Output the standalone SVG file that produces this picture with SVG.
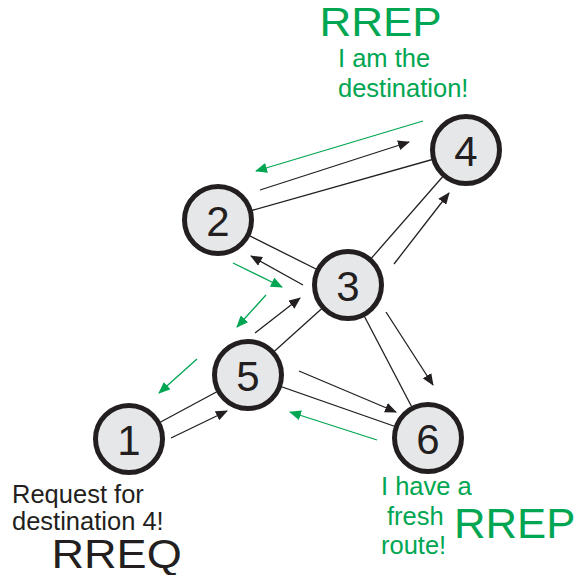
<svg xmlns="http://www.w3.org/2000/svg" width="575" height="575" viewBox="0 0 575 575">
  <defs>
    <marker id="hb" viewBox="0 0 12 10" refX="11" refY="5" markerWidth="12" markerHeight="10" markerUnits="userSpaceOnUse" orient="auto">
      <path d="M0,0 L12,5 L0,10 Z" fill="#231f20"/>
    </marker>
    <marker id="hg" viewBox="0 0 12 10" refX="11" refY="5" markerWidth="12" markerHeight="10" markerUnits="userSpaceOnUse" orient="auto">
      <path d="M0,0 L12,5 L0,10 Z" fill="#00a651"/>
    </marker>
    <style>
      .link { stroke: #231f20; stroke-width: 1.3; fill: none; }
      .req { stroke: #231f20; stroke-width: 1.3; fill: none; marker-end: url(#hb); }
      .rep { stroke: #00a651; stroke-width: 1.3; fill: none; marker-end: url(#hg); }
      .node circle { fill: #e6e7e8; stroke: #231f20; stroke-width: 5; }
      .node text { font-family: "Liberation Sans", Arial, sans-serif; font-size: 42px; fill: #231f20; text-anchor: middle; }
      .lbl { font-family: "Liberation Sans", Arial, sans-serif; font-size: 25.5px; }
      .big { font-family: "Liberation Sans", Arial, sans-serif; }
      .green { fill: #00a651; }
      .dark { fill: #231f20; }
    </style>
  </defs>

  <!-- links between nodes -->
  <g id="connectors">
    <line class="link" x1="218" y1="220" x2="466" y2="150"/>
    <line class="link" x1="218" y1="220" x2="348" y2="285"/>
    <line class="link" x1="348" y1="285" x2="466" y2="150"/>
    <line class="link" x1="348" y1="285" x2="248" y2="375"/>
    <line class="link" x1="348" y1="285" x2="428" y2="438"/>
    <line class="link" x1="248" y1="375" x2="129" y2="439"/>
    <line class="link" x1="248" y1="375" x2="428" y2="438"/>

    <!-- route request flooding -->
    <line class="req" x1="171" y1="438" x2="227" y2="411"/>
    <line class="req" x1="255" y1="333" x2="300" y2="298"/>
    <line class="req" x1="299" y1="371" x2="396" y2="412"/>
    <line class="req" x1="303" y1="285" x2="251" y2="256"/>
    <line class="req" x1="394" y1="264" x2="449" y2="193"/>
    <line class="req" x1="386" y1="312" x2="433" y2="385"/>
    <line class="req" x1="260" y1="190" x2="409" y2="142"/>

    <!-- route replies -->
    <line class="rep" x1="423" y1="121" x2="256" y2="171"/>
    <line class="rep" x1="233" y1="263" x2="282" y2="287"/>
    <line class="rep" x1="266" y1="295" x2="237" y2="327"/>
    <line class="rep" x1="197" y1="359" x2="159" y2="393"/>
    <line class="rep" x1="377" y1="440" x2="290" y2="412"/>
  </g>

  <g id="node-1" class="node">
    <circle cx="129" cy="439" r="33.5"/>
    <text x="129" y="455">1</text>
  </g>
  <g id="node-2" class="node">
    <circle cx="218" cy="220" r="33.5"/>
    <text x="218" y="236">2</text>
  </g>
  <g id="node-3" class="node">
    <circle cx="348" cy="285" r="33.5"/>
    <text x="348" y="301">3</text>
  </g>
  <g id="node-4" class="node">
    <circle cx="466" cy="150" r="33.5"/>
    <text x="466" y="166">4</text>
  </g>
  <g id="node-5" class="node">
    <circle cx="248" cy="375" r="33.5"/>
    <text x="248" y="391">5</text>
  </g>
  <g id="node-6" class="node">
    <circle cx="428" cy="438" r="33.5"/>
    <text x="428" y="454">6</text>
  </g>

  <!-- annotations -->
  <g id="label-destination">
    <text class="big green" font-size="40" transform="translate(319.5,36) scale(1.1,1)">RREP</text>
    <text class="lbl green" x="338" y="67">I am the</text>
    <text class="lbl green" x="338" y="97">destination!</text>
  </g>
  <g id="label-source">
    <text class="lbl dark" x="12" y="503">Request for</text>
    <text class="lbl dark" x="12" y="530">destination 4!</text>
    <text class="big dark" font-size="41" transform="translate(51.5,568) scale(1.1,1)">RREQ</text>
  </g>
  <g id="label-fresh">
    <text class="lbl green" x="381" y="495">I have a</text>
    <text class="lbl green" x="387" y="525">fresh</text>
    <text class="lbl green" x="381" y="554">route!</text>
    <text class="big green" font-size="42" transform="translate(454,538) scale(1.04,1)">RREP</text>
  </g>
</svg>
